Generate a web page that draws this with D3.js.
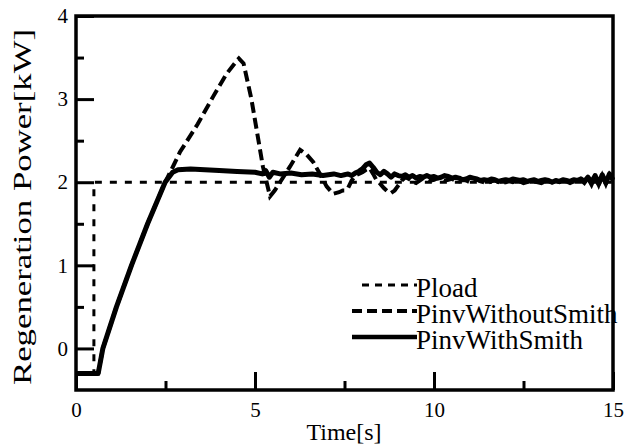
<!DOCTYPE html>
<html>
<head>
<meta charset="utf-8">
<script src="https://cdn.jsdelivr.net/npm/d3@7"></script>
<style>
  body { margin: 0; background: #fff; }
</style>
</head>
<body>
<div id="chart"></div>
<script>
// values
const loadTime = [0, 0.5, 0.5, 15];
const loadPower = [-0.3, -0.3, 2.0, 2.0];

const headTime = [0, 0.62, 0.75, 1.13, 1.55, 2.0, 2.49];
const headPower = [-0.3, -0.3, 0.0, 0.5, 1.0, 1.5, 2.0];

const withoutTime = [2.7, 2.9, 3.4, 3.83, 4.2, 4.45, 4.55, 4.68, 4.9, 5.22, 5.42, 5.55, 5.7, 5.98, 6.26, 6.45, 6.63, 6.8, 7.0, 7.18, 7.35, 7.45];
const withoutPower = [2.18, 2.36, 2.7, 3.03, 3.3, 3.44, 3.49, 3.43, 3.0, 2.19, 1.83, 1.9, 2.0, 2.19, 2.39, 2.33, 2.24, 2.11, 1.95, 1.86, 1.88, 1.9];

const withTime = [2.7, 2.85, 3.2, 3.6, 4.0, 4.5, 5.0, 5.2, 5.3, 5.4, 5.5, 5.7, 6.0, 6.3, 6.6, 6.9, 7.2, 7.4];
const withPower = [2.12, 2.15, 2.16, 2.15, 2.14, 2.13, 2.12, 2.1, 2.14, 2.06, 2.12, 2.1, 2.11, 2.09, 2.1, 2.08, 2.1, 2.08];

// tail, one value every 0.1 s from 7.5 to 15
const tailTime = d3.range(76).map(i => 7.5 + i / 10);
const withTail = [2.09, 2.1, 2.08, 2.11, 2.13, 2.16, 2.21, 2.23, 2.18, 2.12,
  2.09, 2.13, 2.1, 2.06, 2.1, 2.08, 2.07, 2.09, 2.06, 2.08,
  2.05, 2.07, 2.06, 2.08, 2.06, 2.07, 2.05, 2.06, 2.08, 2.07,
  2.05, 2.06, 2.05, 2.03, 2.04, 2.06, 2.05, 2.04, 2.02, 2.03,
  2.02, 2.04, 2.03, 2.01, 2.02, 2.03, 2.02, 2.04, 2.03, 2.02,
  2.03, 2.01, 2.02, 2.03, 2.01, 2.02, 2.03, 2.02, 2.0, 2.02,
  2.01, 2.03, 2.02, 2.01, 2.03, 2.02, 2.04, 2.01, 2.06, 2.0,
  2.08, 1.98, 2.09, 1.99, 2.1, 2.03];
const withoutTail = [1.9, 1.93, 2.02, 2.08, 2.1, 2.12, 2.15, 2.17, 2.1, 2.02,
  1.98, 1.93, 1.89, 1.87, 1.9, 1.96, 2.02, 2.06, 2.04, 2.01,
  1.99, 2.02, 2.05, 2.04, 2.02, 2.03, 2.05, 2.04, 2.02, 2.03,
  2.04, 2.02, 2.01, 2.03, 2.02, 2.0, 2.02, 2.03, 2.01, 2.0,
  1.99, 2.01, 2.02, 2.0, 1.99, 2.0, 2.01, 2.0, 2.02, 2.01,
  1.99, 2.0, 2.02, 2.01, 2.0, 1.99, 2.01, 2.02, 2.0, 2.01,
  2.0, 2.02, 2.01, 1.99, 2.01, 2.0, 2.03, 1.99, 2.05, 1.97,
  2.07, 1.97, 2.08, 1.98, 2.09, 2.02];

const xMajor = [0, 5, 10, 15];
const xMinor = [2.5, 7.5, 12.5];
const yMajor = [0, 1, 2, 3, 4];
const yMinor = [0.5, 1.5, 2.5, 3.5];

const seriesNames = ["Pload", "PinvWithoutSmith", "PinvWithSmith"];

const FONT = '"Liberation Serif", "DejaVu Serif", serif';

const zip = (ts, vs) => ts.map((t, i) => ({ t: t, v: vs[i] }));
const loadData = zip(loadTime, loadPower);
const withoutData = zip(headTime, headPower).concat(zip(withoutTime, withoutPower), zip(tailTime, withoutTail));
const withData = zip(headTime, headPower).concat(zip(withTime, withPower), zip(tailTime, withTail));

const W = 635, H = 445;
const margin = { top: 16, right: 22, bottom: 55, left: 76 };
const width = W - margin.left - margin.right;
const height = H - margin.top - margin.bottom;

const svg = d3.select('#chart')
  .append('svg')
  .attr('width', W)
  .attr('height', H);

const g = svg.append('g')
  .attr('transform', `translate(${margin.left},${margin.top})`);

const x = d3.scaleLinear().domain([0, 15]).range([0, width]);
const y = d3.scaleLinear().domain([-0.5, 4]).range([height, 0]);

// ticks (inward)
const styleAxis = sel => {
  sel.attr('font-family', null).attr('font-size', null);
  sel.select('.domain').remove();
  sel.selectAll('.tick line').attr('stroke', '#000').attr('stroke-width', 3);
  sel.selectAll('.tick text')
    .style('font-family', FONT)
    .style('font-size', '21px')
    .attr('fill', '#000');
};

g.append('g')
  .call(d3.axisLeft(y).tickValues(yMajor).tickSizeInner(-18).tickSizeOuter(0).tickPadding(8).tickFormat(d3.format('d')))
  .call(styleAxis);
g.append('g')
  .call(d3.axisLeft(y).tickValues(yMinor).tickSizeInner(-8).tickSizeOuter(0).tickFormat(''))
  .call(styleAxis);
g.append('g')
  .attr('transform', `translate(0,${height})`)
  .call(d3.axisBottom(x).tickValues(xMajor).tickSizeInner(-18).tickSizeOuter(0).tickPadding(12).tickFormat(d3.format('d')))
  .call(styleAxis);
g.append('g')
  .attr('transform', `translate(0,${height})`)
  .call(d3.axisBottom(x).tickValues(xMinor).tickSizeInner(-9).tickSizeOuter(0).tickFormat(''))
  .call(styleAxis);

// frame
g.append('rect')
  .attr('x', 0).attr('y', 0)
  .attr('width', width).attr('height', height)
  .attr('fill', 'none')
  .attr('stroke', '#000')
  .attr('stroke-width', 3.5);

const line = d3.line()
  .x(d => x(d.t))
  .y(d => y(d.v));

g.append('path')
  .datum(loadData)
  .attr('fill', 'none')
  .attr('stroke', '#000')
  .attr('stroke-width', 3)
  .attr('stroke-dasharray', '7,8')
  .attr('d', line);

g.append('path')
  .datum(withoutData)
  .attr('fill', 'none')
  .attr('stroke', '#000')
  .attr('stroke-width', 4)
  .attr('stroke-dasharray', '11,5')
  .attr('d', line);

g.append('path')
  .datum(withData)
  .attr('fill', 'none')
  .attr('stroke', '#000')
  .attr('stroke-width', 5)
  .attr('stroke-linejoin', 'round')
  .attr('d', line);

// axis titles
svg.append('text')
  .attr('x', 344)
  .attr('y', 440)
  .attr('text-anchor', 'middle')
  .style('font-family', FONT)
  .style('font-size', '24px')
  .text('Time[s]');

svg.append('text')
  .attr('transform', 'translate(31,207) rotate(-90)')
  .attr('text-anchor', 'middle')
  .attr('textLength', 356)
  .attr('lengthAdjust', 'spacingAndGlyphs')
  .style('font-family', FONT)
  .style('font-size', '26px')
  .text('Regeneration Power[kW]');

// legend
const legendDash = ['7,6', '10,5', null];
const legendWidth = [3, 4, 4.5];
const legend = svg.append('g');
seriesNames.forEach((name, i) => {
  const ly = 285 + i * 26;
  legend.append('line')
    .attr('x1', i === 0 ? 362 : 352).attr('x2', 417)
    .attr('y1', ly).attr('y2', ly)
    .attr('stroke', '#000')
    .attr('stroke-width', legendWidth[i])
    .attr('stroke-dasharray', legendDash[i]);
  legend.append('text')
    .attr('x', 416)
    .attr('y', ly + 12)
    .style('font-family', FONT)
    .style('font-size', '27px')
    .text(name);
});
</script>
</body>
</html>
